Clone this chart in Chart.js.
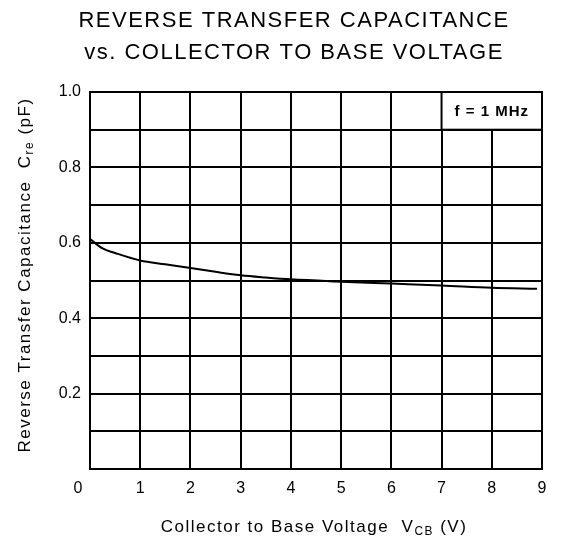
<!DOCTYPE html>
<html lang="en">
<head>
    <meta charset="UTF-8">
    <title>Reverse Transfer Capacitance vs. Collector to Base Voltage</title>
    <script src="https://cdn.jsdelivr.net/npm/chart.js"></script>
    <style>
        html, body { margin: 0; padding: 0; background: #fff; }
        #wrap { width: 563px; height: 545px; }
    </style>
</head>
<body>
    <div id="wrap"><canvas id="chart"></canvas></div>

    <script>
        // Data
        const voltage     = [0, 0.25, 0.5, 1, 1.5, 2, 2.5, 3, 3.5, 4, 5, 6, 7, 8, 8.9];
        const capacitance = [0.61, 0.585, 0.573, 0.553, 0.543, 0.533, 0.523, 0.514, 0.508, 0.503, 0.497, 0.492, 0.487, 0.481, 0.478];
        const yTickLabels = ['0.2', '0.4', '0.6', '0.8', '1.0'];
        const xTickLabels = ['0', '1', '2', '3', '4', '5', '6', '7', '8', '9'];
        const titleLines  = ['REVERSE TRANSFER CAPACITANCE', 'vs. COLLECTOR TO BASE VOLTAGE'];
        const noteText    = 'f = 1 MHz';

        const FONT = '"Liberation Sans", Arial, sans-serif';

        // draws text parts [text, isSub] in a row, returns width
        function drawParts(ctx, parts, x, y, size) {
            let cx = x;
            parts.forEach(([t, sub]) => {
                ctx.font = (sub ? size * 0.7 : size) + 'px ' + FONT;
                ctx.fillText(t, cx, sub ? y + size * 0.25 : y);
                cx += ctx.measureText(t).width;
            });
            return cx - x;
        }
        function partsWidth(ctx, parts, size) {
            let w = 0;
            parts.forEach(([t, sub]) => {
                ctx.font = (sub ? size * 0.7 : size) + 'px ' + FONT;
                w += ctx.measureText(t).width;
            });
            return w;
        }

        const labelsPlugin = {
            id: 'labels',
            afterDraw(chart) {
                const ctx = chart.ctx;
                const x = chart.scales.x, y = chart.scales.y;
                ctx.save();
                ctx.fillStyle = '#000';
                ctx.textBaseline = 'middle';

                // title
                ctx.textAlign = 'center';
                ctx.letterSpacing = '1.5px';
                ctx.font = '22px ' + FONT;
                ctx.fillText(titleLines[0], 294, 21);
                ctx.fillText(titleLines[1], 294, 53);

                // note box in top-right corner cells
                const l = x.getPixelForValue(7), r = x.getPixelForValue(9);
                const t = y.getPixelForValue(1.0), b = y.getPixelForValue(0.9);
                ctx.fillStyle = '#fff';
                ctx.fillRect(l, t, r - l, b - t);
                ctx.strokeStyle = '#000';
                ctx.lineWidth = 2;
                ctx.strokeRect(l, t, r - l, b - t);
                ctx.fillStyle = '#000';
                ctx.letterSpacing = '1px';
                ctx.font = 'bold 15px ' + FONT;
                ctx.fillText(noteText, (l + r) / 2, (t + b) / 2 + 1);

                // axis titles with subscripts
                ctx.textAlign = 'left';
                ctx.letterSpacing = '1.5px';
                const xParts = [['Collector to Base Voltage  V', false], ['CB', true], [' (V)', false]];
                const xw = partsWidth(ctx, xParts, 17);
                drawParts(ctx, xParts, 314 - xw / 2, 527, 17);

                const yParts = [['Reverse Transfer Capacitance  C', false], ['re', true], [' (pF)', false]];
                ctx.translate(25, 275);
                ctx.rotate(-Math.PI / 2);
                const yw = partsWidth(ctx, yParts, 17);
                drawParts(ctx, yParts, -yw / 2, 0, 17);
                ctx.restore();
            }
        };

        new Chart(document.getElementById('chart'), {
            type: 'line',
            data: {
                datasets: [{
                    data: voltage.map((v, i) => ({ x: v, y: capacitance[i] })),
                    borderColor: '#000',
                    borderWidth: 2,
                    pointRadius: 0,
                    cubicInterpolationMode: 'monotone',
                    fill: false
                }]
            },
            options: {
                responsive: true,
                maintainAspectRatio: false,
                animation: false,
                layout: { padding: { left: 0, right: 21, top: 92, bottom: 0 } },
                plugins: {
                    legend: { display: false },
                    tooltip: { enabled: false }
                },
                scales: {
                    x: {
                        type: 'linear',
                        min: 0,
                        max: 9,
                        afterFit: (s) => { s.height = 76; },
                        border: { color: '#000', width: 2 },
                        grid: { color: '#000', lineWidth: 2, drawTicks: false },
                        ticks: {
                            stepSize: 1,
                            padding: 10,
                            color: '#000',
                            font: { family: FONT, size: 16 },
                            callback: (v) => {
                                const s = xTickLabels[v] || '';
                                return v === 0 ? s + '\u2002\u2002\u2002' : s;
                            }
                        }
                    },
                    y: {
                        min: 0,
                        max: 1.0,
                        afterFit: (s) => { s.width = 90; },
                        border: { color: '#000', width: 2 },
                        grid: { color: '#000', lineWidth: 2, drawTicks: false },
                        ticks: {
                            stepSize: 0.1,
                            padding: 9,
                            color: '#000',
                            font: { family: FONT, size: 16 },
                            callback: (v) => {
                                const s = v.toFixed(1);
                                return yTickLabels.includes(s) ? s : '';
                            }
                        }
                    }
                }
            },
            plugins: [labelsPlugin]
        });
    </script>
</body>
</html>
